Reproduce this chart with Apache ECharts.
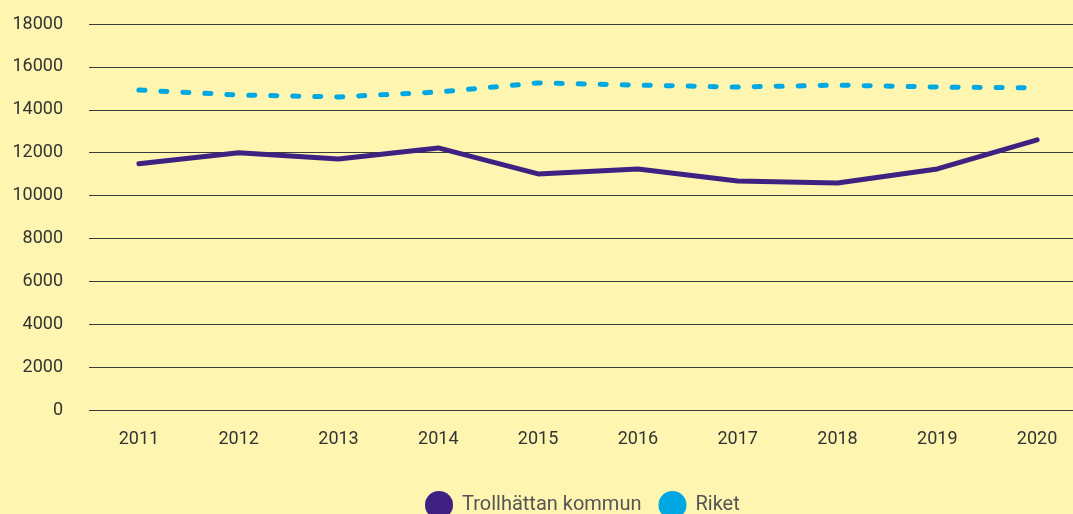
<!DOCTYPE html>
<html>
<head>
<meta charset="utf-8">
<script src="https://cdn.jsdelivr.net/npm/echarts@6/dist/echarts.min.js"></script>
<style>
  html, body { margin: 0; padding: 0; background: #FEF6B0; overflow: hidden; }
  #chart { width: 1100px; height: 514px; }
</style>
</head>
<body>
<div id="chart"></div>
<script>
const years = ['2011', '2012', '2013', '2014', '2015', '2016', '2017', '2018', '2019', '2020'];
const trollhattan = [11480, 12000, 11700, 12220, 11010, 11240, 10680, 10590, 11240, 12600];
const riket = [14920, 14690, 14600, 14830, 15250, 15150, 15060, 15150, 15060, 15020];

const chart = echarts.init(document.getElementById('chart'));
const font = 'Roboto, "Noto Sans", sans-serif';

chart.setOption({
  backgroundColor: '#FEF6B0',
  animation: false,
  // plot area runs past the right edge of the visible page
  grid: { left: 89, width: 998, top: 24, height: 386, containLabel: false },
  legend: {
    top: 486,
    left: 420,
    itemWidth: 28,
    itemHeight: 28,
    itemGap: 17,
    icon: 'circle',
    textStyle: { fontFamily: font, fontSize: 20, color: '#555', padding: [0, 0, 0, 4] },
    data: ['Trollhättan kommun', 'Riket']
  },
  xAxis: {
    type: 'category',
    data: years,
    boundaryGap: true,
    axisLine: { show: false },
    axisTick: { show: false },
    axisLabel: { fontFamily: font, fontSize: 18, color: '#333', margin: 20 }
  },
  yAxis: {
    type: 'value',
    min: 0,
    max: 18000,
    interval: 2000,
    axisLine: { show: false },
    axisTick: { show: false },
    axisLabel: { fontFamily: font, fontSize: 18, color: '#333', margin: 26, formatter: v => String(v) },
    splitLine: { lineStyle: { color: '#3a3a3a', width: 1 } }
  },
  series: [
    {
      name: 'Trollhättan kommun',
      type: 'line',
      data: trollhattan,
      symbol: 'none',
      color: '#3E2181',
      lineStyle: { width: 5, color: '#3E2181', cap: 'round', join: 'round' }
    },
    {
      name: 'Riket',
      type: 'line',
      data: riket,
      symbol: 'none',
      color: '#00A8E3',
      lineStyle: { width: 5, color: '#00A8E3', type: [6, 16], cap: 'round' }
    }
  ]
});
</script>
</body>
</html>
